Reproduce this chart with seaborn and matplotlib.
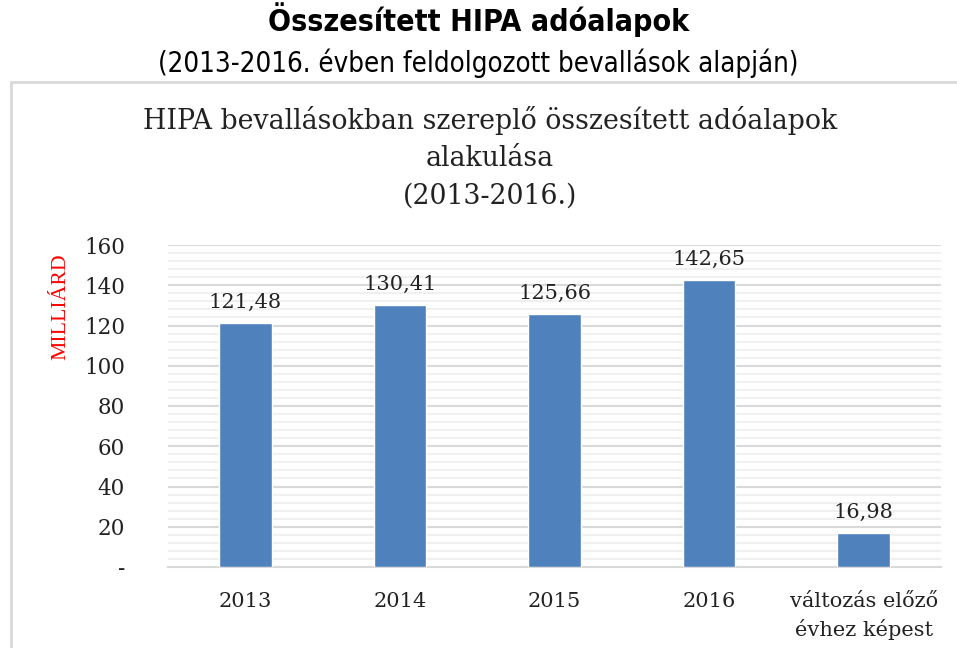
import pandas as pd
import seaborn as sns
from matplotlib import pyplot as plt
from matplotlib import ticker as ticktools
from matplotlib.patches import Rectangle

# data
categories = ["2013", "2014", "2015", "2016", "változás előző\névhez képest"]
values = [121.48, 130.41, 125.66, 142.65, 16.98]
value_labels = ["121,48", "130,41", "125,66", "142,65", "16,98"]
ytick_values = [0, 20, 40, 60, 80, 100, 120, 140, 160]
ytick_labels = ["-", "20", "40", "60", "80", "100", "120", "140", "160"]

df = pd.DataFrame({"kategoria": categories, "ertek": values})

sns.set_theme(style="white")
plt.rcParams["font.family"] = ["DejaVu Serif"]

fig = plt.figure(figsize=(9.57, 6.48), dpi=100)

# light frame around the chart area
fig.patches.append(Rectangle((11 / 957, -0.05), 1.1, 1 - 82 / 648 + 0.05,
                             transform=fig.transFigure, fill=False,
                             edgecolor="#d9d9d9", linewidth=2))

ax = fig.add_axes([168 / 957, 1 - 567 / 648, (941 - 168) / 957, (567 - 245) / 648])

sns.barplot(data=df, x="kategoria", y="ertek", color="#4f81bd",
            width=0.34, saturation=1, ax=ax, zorder=3)

ax.set_ylim(0, 160)
ax.set_xlim(-0.5, 4.5)
ax.yaxis.set_major_locator(ticktools.FixedLocator(ytick_values))
ax.yaxis.set_major_formatter(ticktools.FixedFormatter(ytick_labels))
ax.yaxis.set_minor_locator(ticktools.MultipleLocator(4))

ax.grid(axis="y", which="major", color="#d9d9d9", linewidth=1.5, zorder=0)
ax.grid(axis="y", which="minor", color="#f0f0f0", linewidth=1.5, zorder=0)
ax.set_axisbelow(True)

for side in ["top", "right", "left"]:
    ax.spines[side].set_visible(False)
ax.spines["bottom"].set_color("#d9d9d9")
ax.spines["bottom"].set_linewidth(1.5)

ax.tick_params(axis="y", which="both", length=0, pad=31, labelsize=15.5,
               labelcolor="#222222")
ax.tick_params(axis="x", length=0, pad=18, labelsize=15, labelcolor="#222222")
plt.setp(ax.get_yticklabels(), ha="right")
plt.setp(ax.get_xticklabels(), linespacing=1.45)

ax.set_xlabel("")
ax.set_ylabel("MILLIÁRD", color="red", fontsize=15.7,
              family=["Liberation Serif", "DejaVu Serif"])
ax.yaxis.set_label_coords(-98 / 773, 0.807)

for i, v in enumerate(values):
    ax.annotate(value_labels[i], (i, v), xytext=(0, 8), textcoords="offset points",
                ha="center", va="bottom", fontsize=15, color="#222222")

# titles
fig.text(0.5, 1 - 20 / 648, "Összesített HIPA adóalapok", ha="center", va="center",
         fontsize=21.8, fontweight="bold", fontstretch="condensed",
         family=["DejaVu Sans"], color="black")
fig.text(0.5, 1 - 63 / 648, "(2013-2016. évben feldolgozott bevallások alapján)",
         ha="center", va="center", fontsize=19.8, fontstretch="condensed",
         family=["DejaVu Sans"], color="black")
fig.text(490 / 957, 1 - 158 / 648,
         "HIPA bevallásokban szereplő összesített adóalapok\nalakulása\n(2013-2016.)",
         ha="center", va="center", fontsize=19.3, linespacing=1.5, color="#222222")

fig.savefig("out.png", dpi=100)
